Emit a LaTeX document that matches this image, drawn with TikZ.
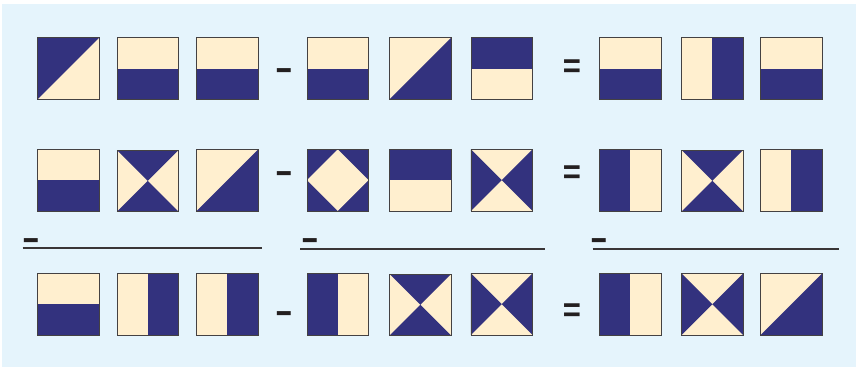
\documentclass[tikz,border=0pt]{standalone}
\usepackage{fontspec}
\newfontfamily\opfont{Liberation Sans}
\definecolor{bgblue}{HTML}{E5F4FC}
\definecolor{navy}{HTML}{33327E}
\definecolor{cream}{HTML}{FFEFCF}
\definecolor{ink}{HTML}{231F20}
\tikzset{
  tilebox/.style={draw=ink!85, line width=0.9pt, fill=cream, minimum size=61.5pt, inner sep=0pt, outer sep=0pt},
  opsign/.style={text=ink, inner sep=0pt, yshift=-6pt, font=\opfont\bfseries\fontsize{28}{28}\selectfont},
  eqsign/.style={text=ink, inner sep=0pt, yshift=-2pt, font=\opfont\bfseries\fontsize{31}{31}\selectfont},
  fracline/.style={draw=ink!90, line width=2pt},
  navyfill/.style={fill=navy},
}
\newcommand{\minussign}{\scalebox{1}[1.45]{–}}
\newcommand{\equalsign}{\scalebox{1}[1.1]{=}}
% \tile{name}{x}{y}{type}
\newcommand{\tile}[4]{%
  \node[tilebox] (#1) at (#2,#3) {};
  \csname tilepat#4\endcsname{#1}%
  \draw[ink!85, line width=0.9pt] (#1.north west) rectangle (#1.south east);
}
\newcommand{\tilepatH}[1]{\fill[navyfill] (#1.west) rectangle (#1.south east);}
\newcommand{\tilepatI}[1]{\fill[navyfill] (#1.north west) rectangle (#1.east);}
\newcommand{\tilepatR}[1]{\fill[navyfill] (#1.north) rectangle (#1.south east);}
\newcommand{\tilepatL}[1]{\fill[navyfill] (#1.north west) rectangle (#1.south);}
\newcommand{\tilepatA}[1]{\fill[navyfill] (#1.north west) -- (#1.north east) -- (#1.south west) -- cycle;}
\newcommand{\tilepatB}[1]{\fill[navyfill] (#1.north east) -- (#1.south east) -- (#1.south west) -- cycle;}
\newcommand{\tilepatG}[1]{\fill[navyfill] (#1.north west) -- (#1.north east) -- (#1.center) -- cycle (#1.south west) -- (#1.south east) -- (#1.center) -- cycle;}
\newcommand{\tilepatT}[1]{\fill[navyfill] (#1.north west) -- (#1.south west) -- (#1.center) -- cycle (#1.north east) -- (#1.south east) -- (#1.center) -- cycle;}
\newcommand{\tilepatD}[1]{\fill[navyfill] (#1.north west) rectangle (#1.south east);
  \fill[cream] (#1.north) -- (#1.east) -- (#1.south) -- (#1.west) -- cycle;}
\begin{document}
\begin{tikzpicture}[x=1pt,y=-1pt]
\useasboundingbox (0,0) rectangle (856,367);
\fill[bgblue] (2,4) rectangle (856,367);
% row 1
\tile{a1}{68.3}{68.6}{A}
\tile{a2}{147.7}{68.6}{H}
\tile{a3}{227.3}{68.6}{H}
\tile{a4}{337.7}{68.6}{H}
\tile{a5}{420.3}{68.6}{B}
\tile{a6}{501.7}{68.6}{I}
\tile{a7}{630.3}{68.6}{H}
\tile{a8}{712.3}{68.6}{R}
\tile{a9}{791.3}{68.6}{H}
\node[opsign] (am) at (284.5,68.7) {\minussign};
\node[eqsign] (ae) at (572,66.5) {\equalsign};
% row 2
\tile{b1}{68.3}{180.2}{H}
\tile{b2}{147.7}{180.8}{G}
\tile{b3}{227.3}{180.2}{B}
\tile{b4}{337.7}{180.2}{D}
\tile{b5}{420.3}{180.2}{I}
\tile{b6}{501.7}{180.2}{T}
\tile{b7}{630.3}{180.2}{L}
\tile{b8}{712.3}{180.8}{G}
\tile{b9}{791.3}{180.2}{R}
\node[opsign] (bm) at (284.5,172) {\minussign};
\node[eqsign] (be) at (572,172.5) {\equalsign};
% fraction lines
\node[opsign] (f1m) at (31.5,239) {\minussign};
\node[opsign] (f2m) at (310,239) {\minussign};
\node[opsign] (f3m) at (599.5,239) {\minussign};
\coordinate (f1a) at (22.7,247.5); \coordinate (f1b) at (261.7,247.5);
\coordinate (f2a) at (300,249); \coordinate (f2b) at (545,249);
\coordinate (f3a) at (592.7,248.5); \coordinate (f3b) at (839,248.5);
\draw[fracline] (f1a) -- (f1b);
\draw[fracline] (f2a) -- (f2b);
\draw[fracline] (f3a) -- (f3b);
% row 3
\tile{c1}{68.3}{304.2}{H}
\tile{c2}{147.7}{304.2}{R}
\tile{c3}{227.3}{304.2}{R}
\tile{c4}{337.7}{304.2}{L}
\tile{c5}{420.3}{304.8}{G}
\tile{c6}{501.7}{304.2}{T}
\tile{c7}{630.3}{304.2}{L}
\tile{c8}{712.3}{304.2}{T}
\tile{c9}{791.3}{304.2}{B}
\node[opsign] (cm) at (284.5,311.7) {\minussign};
\node[eqsign] (ce) at (572,311) {\equalsign};
\end{tikzpicture}
\end{document}
